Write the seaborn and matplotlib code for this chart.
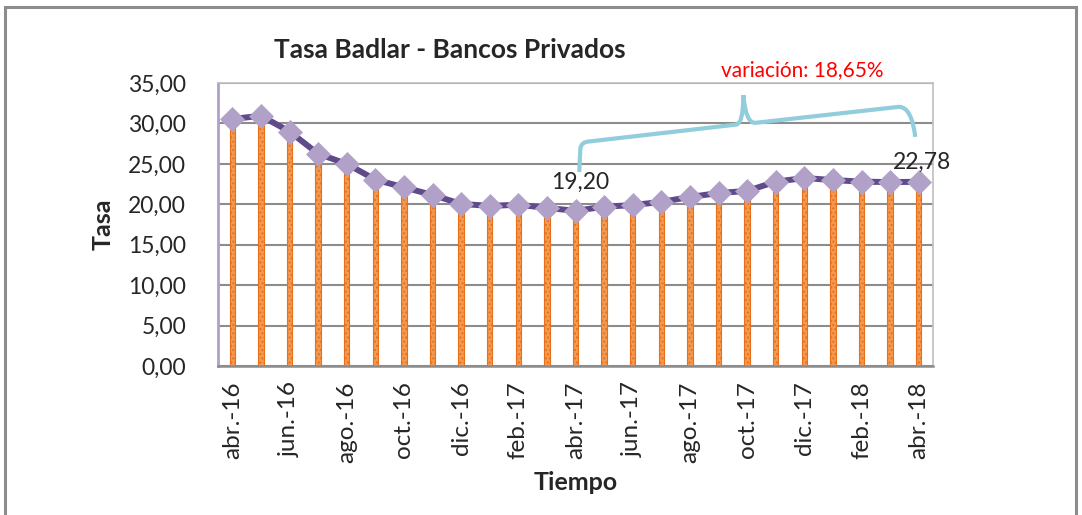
import numpy as np
import pandas as pd
import seaborn as sns
import matplotlib.pyplot as plt
from matplotlib.path import Path
from matplotlib.patches import PathPatch, Rectangle

meses = ["abr.-16", "may.-16", "jun.-16", "jul.-16", "ago.-16", "sep.-16", "oct.-16",
         "nov.-16", "dic.-16", "ene.-17", "feb.-17", "mar.-17", "abr.-17", "may.-17",
         "jun.-17", "jul.-17", "ago.-17", "sep.-17", "oct.-17", "nov.-17", "dic.-17",
         "ene.-18", "feb.-18", "mar.-18", "abr.-18"]
tasa = [30.55, 30.95, 29.00, 26.25, 25.00, 23.05, 22.10, 21.15, 20.05, 19.80, 19.95,
        19.55, 19.20, 19.70, 19.90, 20.30, 20.90, 21.40, 21.65, 22.80, 23.25, 23.00,
        22.80, 22.75, 22.78]
y_ticks = [0, 5, 10, 15, 20, 25, 30, 35]

sns.set_style("white")
plt.rcParams['font.family'] = ['Lato', 'DejaVu Sans']
plt.rcParams['hatch.linewidth'] = 1.0

df = pd.DataFrame({"mes": meses, "tasa": tasa})
df["pos"] = np.arange(len(df))

fig = plt.figure(figsize=(10.82, 5.15), dpi=100)
ax = fig.add_axes([0.2015, 0.2893, 0.6608, 0.5495])

# outer chart border
fig.patches.append(Rectangle((5 / 1082, -0.02), 1071 / 1082, 1 - 7 / 515 + 0.02,
                             transform=fig.transFigure, fill=False,
                             edgecolor="#8c8c8c", linewidth=2.2))

ax.set_axisbelow(True)
ax.grid(axis="y", color="#8c8c8c", linewidth=1.5)

sns.barplot(data=df, x="mes", y="tasa", width=0.19, color="#F39A50", saturation=1,
            edgecolor="#E8701A", linewidth=0.8, ax=ax, zorder=2)
for p in ax.patches:
    p.set_hatch("....")

sns.lineplot(data=df, x="pos", y="tasa", ax=ax, color="#5F4A8B", linewidth=4.3,
             marker="D", markersize=12, markerfacecolor="#B1A0C7",
             markeredgecolor="#B1A0C7", markeredgewidth=0.5, zorder=3)

ax.set_xlim(-0.5, len(meses) - 0.5)
ax.set_ylim(0, 35)
ax.set_yticks(y_ticks)
ax.set_yticklabels([f"{v:.2f}".replace(".", ",") for v in y_ticks], fontsize=16.5)
ax.set_xticks(range(0, len(meses), 2))
ax.set_xticklabels(meses[::2], rotation=90, fontsize=17.5)
ax.tick_params(axis="y", length=7, width=1.5, color="#B1A0C7", pad=16)
ax.tick_params(axis="x", length=0, pad=11)

for s in ["top", "right"]:
    ax.spines[s].set_color("#BFBFBF")
    ax.spines[s].set_linewidth(1.2)
ax.spines["left"].set_color("#B1A0C7")
ax.spines["left"].set_linewidth(2)
ax.spines["bottom"].set_color("#8c8c8c")
ax.spines["bottom"].set_linewidth(1.8)

ax.set_xlabel("Tiempo", fontsize=18, fontweight="bold", labelpad=6)
ax.set_ylabel("Tasa", fontsize=18, fontweight="bold", labelpad=10)
fig.text(450 / 1082, 1 - 50 / 515, "Tasa Badlar - Bancos Privados", fontsize=19,
         fontweight="bold", ha="center", va="center")

# value labels
ax.text(12.17, 22.75, "19,20", fontsize=16.5, ha="center", va="center")
ax.text(24.13, 25.25, "22,78", fontsize=16.5, ha="center", va="center", clip_on=False)
ax.text(19.93, 36.6, "variación: 18,65%", fontsize=15, color="#FF0000",
        ha="center", va="center", clip_on=False)

# curly brace
verts = [(12.13, 24.0), (12.17, 26.9), (12.20, 27.75), (12.50, 27.78),
         (17.60, 29.85), (17.87, 29.90), (17.87, 33.5),
         (17.95, 29.95), (18.30, 30.08), (23.30, 32.05),
         (23.75, 32.10), (23.88, 28.34)]
codes = [Path.MOVETO, Path.LINETO, Path.CURVE3, Path.CURVE3,
         Path.LINETO, Path.CURVE3, Path.CURVE3,
         Path.CURVE3, Path.CURVE3, Path.LINETO,
         Path.CURVE3, Path.CURVE3]
ax.add_patch(PathPatch(Path(verts, codes), fill=False, edgecolor="#92CDDC",
                       linewidth=3, clip_on=False, zorder=4))

fig.savefig("out.png", dpi=100)
